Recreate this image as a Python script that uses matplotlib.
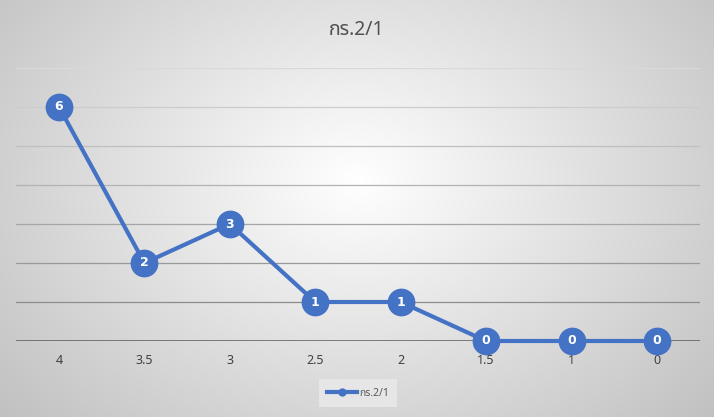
import numpy as np
import matplotlib
matplotlib.use("Agg")
import matplotlib.pyplot as plt
from matplotlib import font_manager
from matplotlib.ft2font import FT2Font
from matplotlib.lines import Line2D

categories = ["4", "3.5", "3", "2.5", "2", "1.5", "1", "0"]
values = [6, 2, 3, 1, 1, 0, 0, 0]
series_name = "กร.2/1"
title = "กร.2/1"

# find a font with Thai coverage
thai_fonts = set()
for f in font_manager.fontManager.ttflist:
    try:
        cm = FT2Font(f.fname).get_charmap()
        if 0x0E01 in cm and 0x0E23 in cm:
            thai_fonts.add(f.name)
    except Exception:
        pass
pref = ["Noto Sans Thai", "Noto Sans Thai UI", "IBM Plex Sans Thai", "Sarabun", "Kanit"]
chosen = [p for p in pref if p in thai_fonts] or sorted(thai_fonts)[:1]
fam = chosen[:1] + ["DejaVu Sans"]
plt.rcParams['font.family'] = fam

fig = plt.figure(figsize=(7.14, 4.17), dpi=100)
# radial gradient background
bg = fig.add_axes([0, 0, 1, 1], zorder=-10)
yy, xx = np.mgrid[0:417, 0:714]
r = np.sqrt(((xx - 357) / 430.0) ** 2 + ((yy - 180) / 320.0) ** 2)
g = 1.0 - 0.22 * np.clip(r, 0, 1.25)
bg.imshow(np.dstack([g, g, g]), aspect='auto', extent=[0, 1, 0, 1])
bg.axis('off')

ax = fig.add_axes([16.3 / 714, (417 - 341) / 417, 683.4 / 714, (341 - 68) / 417])
ax.patch.set_alpha(0)
x = np.arange(len(categories))
ax.set_xlim(-0.5, len(categories) - 0.5)
ax.set_ylim(0, 7)
grid_grays = np.linspace(0.55, 0.85, 7)
for yv, gg in zip(range(1, 8), grid_grays):
    ax.axhline(yv, color=(gg, gg, gg), lw=0.9, zorder=1)
ax.axhline(0, color='#595959', lw=1.8, zorder=2)
for s in ax.spines.values():
    s.set_visible(False)
ax.set_yticks([])
ax.set_xticks(x)
ax.set_xticklabels(categories, color='#404040', fontsize=9)
ax.tick_params(axis='x', length=0, pad=9)

ax.plot(x, values, color='#4472C4', lw=3, marker='o', ms=20,
        markerfacecolor='#4472C4', markeredgecolor='#4472C4', markeredgewidth=0,
        zorder=3, clip_on=False, label=series_name)
for xi, v in zip(x, values):
    ax.text(xi, v, str(v), color='white', fontsize=9, fontweight='bold',
            ha='center', va='center', zorder=4, family=['DejaVu Sans'])

fig.text(0.5, 1 - 30 / 417, title, ha='center', va='center', fontsize=14, color='#505050')

# legend
h = Line2D([], [], color='#4472C4', lw=3, marker='o', ms=6, markerfacecolor='#4472C4',
           markeredgewidth=0)
leg = fig.legend([h], [series_name], loc='center', bbox_to_anchor=(358 / 714, 1 - 393 / 417),
                 frameon=True, fontsize=7.5, handlelength=2.9, borderpad=0.8,
                 handletextpad=0.2, labelcolor='#595959')
leg.get_frame().set_facecolor('#e6e6e6')
leg.get_frame().set_edgecolor('none')
leg.get_frame().set_alpha(1)
leg.get_frame().set_boxstyle('square', pad=0)

fig.savefig("out.png", dpi=100)
